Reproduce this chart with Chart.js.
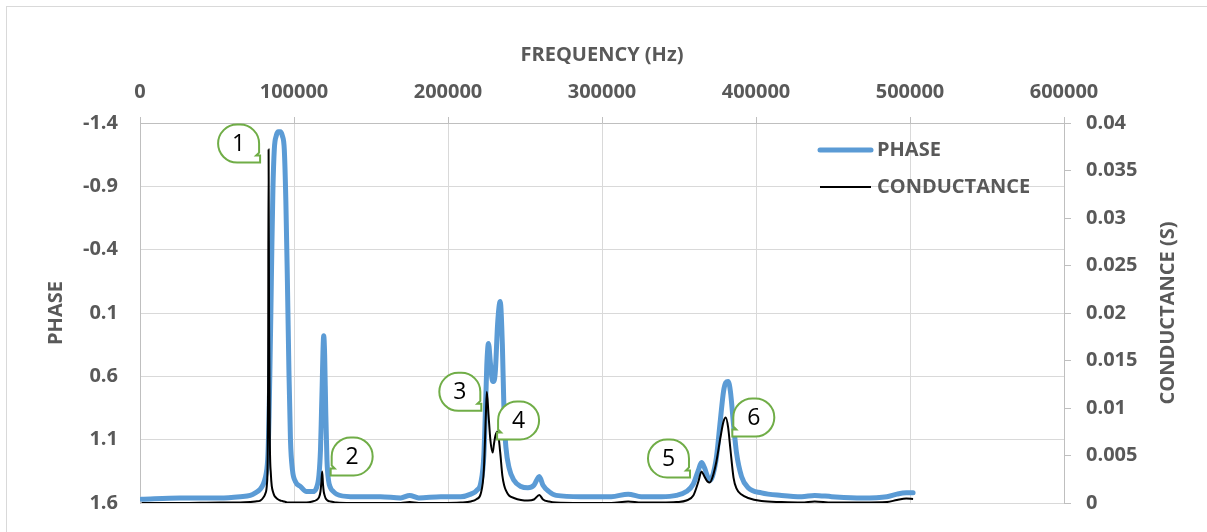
<!DOCTYPE html>
<html>
<head>
<meta charset="utf-8">
<script src="https://cdn.jsdelivr.net/npm/chart.js@4.4.1/dist/chart.umd.min.js"></script>
<style>
  html, body { margin: 0; padding: 0; background: #fff; overflow: hidden; }
  #frame { position: absolute; left: 6px; top: 6px; width: 1300px; height: 700px; border: 1px solid #d9d9d9; }
  canvas { position: absolute; left: 0; top: 0; }
</style>
</head>
<body>
<div id="frame"></div>
<canvas id="chart" width="1207" height="532"></canvas>
<script>
// frequency sweep (Hz)
const frequency = [
  1000, 26000, 52000, 65100, 71600, 74900, 78100, 80100, 81400, 82400,
  82900, 83200, 83500, 83800, 84300, 85000, 85600, 86300, 87200, 88500,
  89800, 91100, 92400, 93700, 94700, 95700, 96700, 97700, 99000, 100900,
  104200, 108100, 112000, 114600, 116200, 117200, 117800, 118300, 118800, 119300,
  119900, 120600, 121400, 122400, 123700, 125600, 127600, 136700, 156200, 169300,
  175100, 181000, 195300, 208300, 214800, 218700, 221300, 223300, 224600, 225200,
  226300, 227500, 229000, 229800, 230800, 232200, 233900, 235300, 236500, 237600,
  239600, 242800, 247400, 251900, 255800, 259300, 261700, 265600, 270200, 286400,
  306000, 317000, 325500, 338500, 348300, 354800, 359300, 362600, 364600, 366500,
  368500, 370000, 371700, 374300, 376900, 378900, 380400, 381900, 383400, 385400,
  387300, 390600, 394900, 403600, 416600, 429700, 438100, 449200, 468700, 485000,
  491500, 497600, 502000
];

const phase = [
  1.57, 1.56, 1.56, 1.55, 1.54, 1.52, 1.49, 1.45, 1.40, 1.33,
  1.26, 1.18, 1.06, 0.91, 0.59, 0.08, -0.40, -0.87, -1.19, -1.30,
  -1.33, -1.33, -1.30, -1.19, -0.79, -0.16, 0.55, 1.10, 1.34, 1.43,
  1.47, 1.51, 1.51, 1.48, 1.38, 1.18, 0.91, 0.67, 0.41, 0.28,
  0.43, 0.87, 1.26, 1.42, 1.48, 1.51, 1.53, 1.55, 1.55, 1.56,
  1.54, 1.56, 1.55, 1.55, 1.53, 1.50, 1.44, 1.22, 0.75, 0.51,
  0.34, 0.49, 0.64, 0.64, 0.55, 0.19, 0.01, 0.35, 0.94, 1.16,
  1.32, 1.42, 1.47, 1.48, 1.46, 1.39, 1.46, 1.51, 1.54, 1.55,
  1.55, 1.53, 1.55, 1.55, 1.54, 1.51, 1.45, 1.34, 1.28, 1.32,
  1.39, 1.42, 1.39, 1.24, 0.94, 0.72, 0.65, 0.64, 0.72, 0.98,
  1.20, 1.39, 1.48, 1.52, 1.54, 1.55, 1.54, 1.55, 1.56, 1.55,
  1.53, 1.52, 1.52
];

// conductance (S)
const conductance = [
  0, 0, 0.00005, 0.00005, 0.0001, 0.00016, 0.00026, 0.00058, 0.001, 0.00195,
  0.00458, 0.013, 0.0372, 0.0193, 0.00668, 0.003, 0.00174, 0.00121, 0.00079, 0.00053,
  0.00037, 0.00026, 0.00021, 0.00016, 0.0001, 0.00005, 0.00005, 0.00005, 0.00005, 0.00005,
  0.00005, 0.00005, 0.00016, 0.00032, 0.00058, 0.00121, 0.00226, 0.00332, 0.00205, 0.00121,
  0.00079, 0.00047, 0.00032, 0.00021, 0.00016, 0.0001, 0.00005, 0, 0, 0,
  0.0001, 0, 0, 0.00005, 0.00016, 0.00042, 0.001, 0.00353, 0.00932, 0.0117,
  0.00932, 0.00668, 0.00532, 0.00616, 0.0071, 0.00753, 0.00532, 0.00289, 0.00184, 0.00132,
  0.00079, 0.00053, 0.00032, 0.00026, 0.00037, 0.00084, 0.00037, 0.00016, 0.00005, 0,
  0, 0.00016, 0.00005, 0.00005, 0.0001, 0.00026, 0.00079, 0.00226, 0.00332, 0.00279,
  0.00226, 0.00216, 0.00268, 0.00437, 0.00689, 0.00858, 0.009, 0.00795, 0.00563, 0.00268,
  0.00153, 0.00089, 0.00053, 0.00021, 0.0001, 0.00005, 0.00016, 0.00005, 0.00005, 0.0001,
  0.00032, 0.00047, 0.00042
];

// numbered resonance markers, anchored on conductance peaks
const callouts = [
  { label: "1", freq: 83500, dx: -30, dy: -6, tail: "right" },
  { label: "2", freq: 118300, dx: 30, dy: -15, tail: "left" },
  { label: "3", freq: 225200, dx: -27, dy: 0, tail: "right" },
  { label: "4", freq: 232200, dx: 21, dy: -11, tail: "left" },
  { label: "5", freq: 364600, dx: -33, dy: -13, tail: "right" },
  { label: "6", freq: 380400, dx: 28, dy: 0, tail: "left" }
];

function bubblePath(ctx, cx, cy, w, h, tail) {
  const r = 19;
  const s = tail === "left" ? -1 : 1;
  // drawn for a tail at bottom-right, mirrored with s
  const X = (dx) => cx + s * dx;
  const hw = w / 2, hh = h / 2;
  ctx.beginPath();
  ctx.moveTo(X(-hw + r), cy - hh);
  ctx.lineTo(X(hw - r), cy - hh);
  ctx.arcTo(X(hw), cy - hh, X(hw), cy - hh + r, r);
  ctx.lineTo(X(hw), cy + hh - 10);
  ctx.lineTo(X(hw - 3), cy + hh - 7);
  ctx.lineTo(X(hw + 1), cy + hh - 7);
  ctx.lineTo(X(hw + 1), cy + hh);
  ctx.lineTo(X(-hw + r), cy + hh);
  ctx.arcTo(X(-hw), cy + hh, X(-hw), cy + hh - r, r);
  ctx.lineTo(X(-hw), cy - hh + r);
  ctx.arcTo(X(-hw), cy - hh, X(-hw + r), cy - hh, r);
  ctx.closePath();
}

const calloutPlugin = {
  id: "callouts",
  afterDatasetsDraw(chart) {
    const { ctx, scales } = chart;
    ctx.save();
    callouts.forEach(c => {
      const i = frequency.indexOf(c.freq);
      const cx = scales.x.getPixelForValue(frequency[i]) + c.dx;
      const cy = scales.y1.getPixelForValue(conductance[i]) + c.dy;
      bubblePath(ctx, cx, cy, 41, 38, c.tail);
      ctx.fillStyle = "#fff";
      ctx.fill();
      ctx.strokeStyle = "#70AD47";
      ctx.lineWidth = 2;
      ctx.stroke();
      ctx.fillStyle = "#000";
      ctx.font = '23px "Open Sans"';
      ctx.textAlign = "center";
      ctx.textBaseline = "middle";
      ctx.fillText(c.label, cx, cy + 1);
    });
    ctx.restore();
  }
};

const legendPlugin = {
  id: "insideLegend",
  afterDraw(chart) {
    const { ctx, chartArea } = chart;
    const items = [chart.data.datasets[1], chart.data.datasets[0]];
    const x0 = chartArea.right - 244;
    ctx.save();
    ctx.font = 'bold 20px "Open Sans"';
    ctx.textBaseline = "middle";
    ctx.textAlign = "left";
    items.forEach((ds, k) => {
      const y = chartArea.top + 27 + k * 37;
      ctx.beginPath();
      ctx.moveTo(x0, y);
      ctx.lineTo(x0 + 51, y);
      ctx.strokeStyle = ds.borderColor;
      ctx.lineWidth = ds.borderWidth;
      ctx.lineCap = ds.borderCapStyle || "butt";
      ctx.stroke();
      ctx.fillStyle = "#595959";
      ctx.fillText(ds.label, x0 + 57, y);
    });
    ctx.restore();
  }
};

const rightTitlePlugin = {
  id: "rightTitle",
  afterDraw(chart) {
    const { ctx, chartArea } = chart;
    ctx.save();
    ctx.translate(1168, (chartArea.top + chartArea.bottom) / 2);
    ctx.rotate(-Math.PI / 2);
    ctx.font = 'bold 20px "Open Sans"';
    ctx.fillStyle = "#595959";
    ctx.textAlign = "center";
    ctx.textBaseline = "middle";
    ctx.fillText("CONDUCTANCE (S)", 0, 0);
    ctx.restore();
  }
};

Chart.defaults.font.family = '"Open Sans"';
Chart.defaults.font.size = 20;
Chart.defaults.font.weight = "bold";
Chart.defaults.color = "#595959";

new Chart(document.getElementById("chart"), {
  type: "line",
  data: {
    datasets: [
      {
        label: "CONDUCTANCE",
        data: frequency.map((f, i) => ({ x: f, y: conductance[i] })),
        yAxisID: "y1",
        borderColor: "#000000",
        borderWidth: 2,
        pointRadius: 0,
        cubicInterpolationMode: "monotone",
        order: 0
      },
      {
        label: "PHASE",
        data: frequency.map((f, i) => ({ x: f, y: phase[i] })),
        yAxisID: "y",
        borderColor: "#5B9BD5",
        borderWidth: 5,
        borderCapStyle: "round",
        borderJoinStyle: "round",
        pointRadius: 0,
        cubicInterpolationMode: "monotone",
        order: 1
      }
    ]
  },
  options: {
    responsive: false,
    animation: false,
    layout: { padding: { bottom: 29 } },
    plugins: {
      legend: { display: false },
      tooltip: { enabled: false }
    },
    scales: {
      x: {
        type: "linear",
        position: "top",
        min: 0,
        max: 600000,
        ticks: { stepSize: 100000, padding: 13, maxRotation: 0, callback: v => String(v) },
        grid: { color: "#D9D9D9", tickColor: "#BFBFBF", tickLength: 6 },
        border: { color: "#BFBFBF" },
        title: { display: true, text: "FREQUENCY (Hz)", padding: { top: 43, bottom: 0 } },
        afterFit: s => { s.height = 123; }
      },
      y: {
        position: "left",
        reverse: true,
        min: -1.4,
        max: 1.6,
        ticks: { stepSize: 0.5, padding: 16, callback: v => Number(v.toFixed(1)).toString() },
        grid: { color: "#D9D9D9", tickColor: "rgba(0,0,0,0)", tickLength: 6 },
        border: { color: "#BFBFBF" },
        title: { display: true, text: "PHASE", padding: { top: 44, bottom: 0 } },
        afterFit: s => { s.width = 140; }
      },
      y1: {
        position: "right",
        min: 0,
        max: 0.04,
        ticks: { stepSize: 0.005, padding: 15, callback: v => Number(v.toFixed(3)).toString() },
        grid: { drawOnChartArea: false, tickColor: "#BFBFBF", tickLength: 7 },
        border: { color: "#BFBFBF" },
        afterFit: s => { s.width = 143; }
      }
    }
  },
  plugins: [calloutPlugin, legendPlugin, rightTitlePlugin]
});
</script>
</body>
</html>
